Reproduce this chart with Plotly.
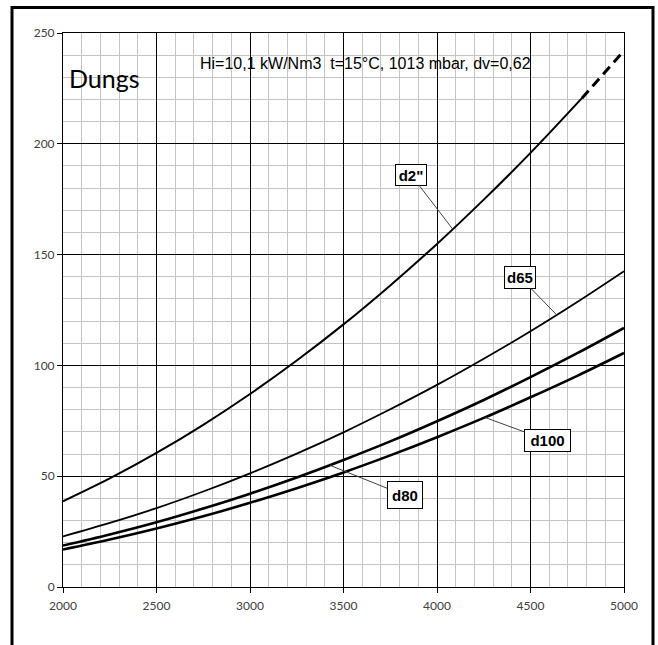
import plotly.graph_objects as go

# Data
x_vals = [2000, 2250, 2500, 2750, 3000, 3250, 3500, 3750, 4000, 4250, 4500, 4750, 5000]
d2_solid_x = [2000, 2250, 2500, 2750, 3000, 3250, 3500, 3750, 4000, 4250, 4500, 4775]
d2_solid_y = [38.7, 49.0, 60.5, 73.2, 87.1, 102.2, 118.5, 136.1, 154.8, 174.8, 195.9, 220.6]
d2_dash_x = [4775, 5000]
d2_dash_y = [220.6, 242.0]
d65_y = [22.8, 28.9, 35.6, 43.1, 51.3, 60.2, 69.8, 80.2, 91.2, 103.0, 115.4, 128.6, 142.5]
d80_y = [18.7, 23.7, 29.2, 35.4, 42.1, 49.4, 57.3, 65.7, 74.8, 84.4, 94.7, 105.5, 116.9]
d100_y = [16.9, 21.4, 26.4, 31.9, 38.0, 44.6, 51.7, 59.4, 67.6, 76.3, 85.6, 95.3, 105.6]

labels = ['d2"', "d65", "d100", "d80"]
label_pts = [(4084, 161.5), (4640, 122.8), (4257, 76.5), (3428, 54.9)]
label_boxes = [(3861, 186.0), (4444, 139.8), (4590, 66.2), (3827, 41.4)]
label_sizes = [(26, 16), (26, 17), (41, 17), (30, 22)]

title_text = "Dungs"
info_text = "Hi=10,1 kW/Nm3  t=15°C, 1013 mbar, dv=0,62"

x_ticks = [2000, 2500, 3000, 3500, 4000, 4500, 5000]
y_ticks = [0, 50, 100, 150, 200, 250]

fig = go.Figure()

fig.add_trace(go.Scatter(x=d2_solid_x, y=d2_solid_y, mode="lines", line=dict(color="black", width=2, shape="spline"), showlegend=False))
fig.add_trace(go.Scatter(x=d2_dash_x, y=d2_dash_y, mode="lines", line=dict(color="black", width=3, dash="10px,6px"), showlegend=False))
fig.add_trace(go.Scatter(x=x_vals, y=d65_y, mode="lines", line=dict(color="black", width=1.8, shape="spline"), showlegend=False))
fig.add_trace(go.Scatter(x=x_vals, y=d80_y, mode="lines", line=dict(color="black", width=2.6, shape="spline"), showlegend=False))
fig.add_trace(go.Scatter(x=x_vals, y=d100_y, mode="lines", line=dict(color="black", width=2.6, shape="spline"), showlegend=False))

label_font = dict(family="Liberation Sans, Arial, sans-serif", size=15, color="black")
for txt, (px, py), (bx, by), (w, h) in zip(labels, label_pts, label_boxes, label_sizes):
    fig.add_annotation(
        x=px, y=py, ax=bx, ay=by, xref="x", yref="y", axref="x", ayref="y",
        text="<b>%s</b>" % txt, showarrow=True, arrowhead=0, arrowwidth=1,
        arrowcolor="#404040", bgcolor="white", bordercolor="black", borderwidth=1,
        borderpad=2, width=w, height=h, font=label_font, standoff=0,
    )

# White boxes behind the texts
fig.add_shape(type="rect", x0=2021, x1=2492, y0=217, y1=241, xref="x", yref="y",
              fillcolor="white", line=dict(width=0), layer="below")
fig.add_shape(type="rect", x0=2706, x1=4578, y0=231.5, y1=245, xref="x", yref="y",
              fillcolor="white", line=dict(width=0), layer="below")

fig.add_annotation(x=2221, y=229.8, xref="x", yref="y", text=title_text, showarrow=False,
                   font=dict(family="Lato, Open Sans, sans-serif", size=25, color="black"))
fig.add_annotation(x=2722, y=236.2, xref="x", yref="y", text=info_text, showarrow=False,
                   xanchor="left", font=dict(family="Liberation Sans, Arial, sans-serif", size=16, color="black"))

# Outer frame
fig.add_shape(type="rect", xref="paper", yref="paper", x0=-0.0909, x1=1.0517, y0=-0.12, y1=1.0460,
              line=dict(color="black", width=3), fillcolor="rgba(0,0,0,0)", layer="above")

tick_font = dict(family="Lato, Open Sans, sans-serif", size=12, color="#404040")
fig.update_xaxes(
    range=[2000, 5000], tickvals=x_ticks, ticks="outside", ticklen=5, tickcolor="black",
    showline=True, linecolor="black", linewidth=1, mirror=True,
    showgrid=True, gridcolor="black", gridwidth=1, zeroline=False,
    minor=dict(dtick=100, tick0=2000, showgrid=True, gridcolor="#c4c4c4", gridwidth=1),
    tickfont=tick_font, fixedrange=True, ticklabelstandoff=3,
)
fig.update_yaxes(
    range=[0, 250], tickvals=y_ticks, ticks="outside", ticklen=5, tickcolor="black",
    showline=True, linecolor="black", linewidth=1, mirror=True,
    showgrid=True, gridcolor="black", gridwidth=1, zeroline=False,
    minor=dict(dtick=10, tick0=0, showgrid=True, gridcolor="#c4c4c4", gridwidth=1),
    tickfont=tick_font, fixedrange=True,
)

fig.update_layout(
    width=658, height=645,
    margin=dict(l=63, r=34, t=33, b=58),
    paper_bgcolor="white", plot_bgcolor="white",
    showlegend=False,
)

fig.write_html("out.html")
